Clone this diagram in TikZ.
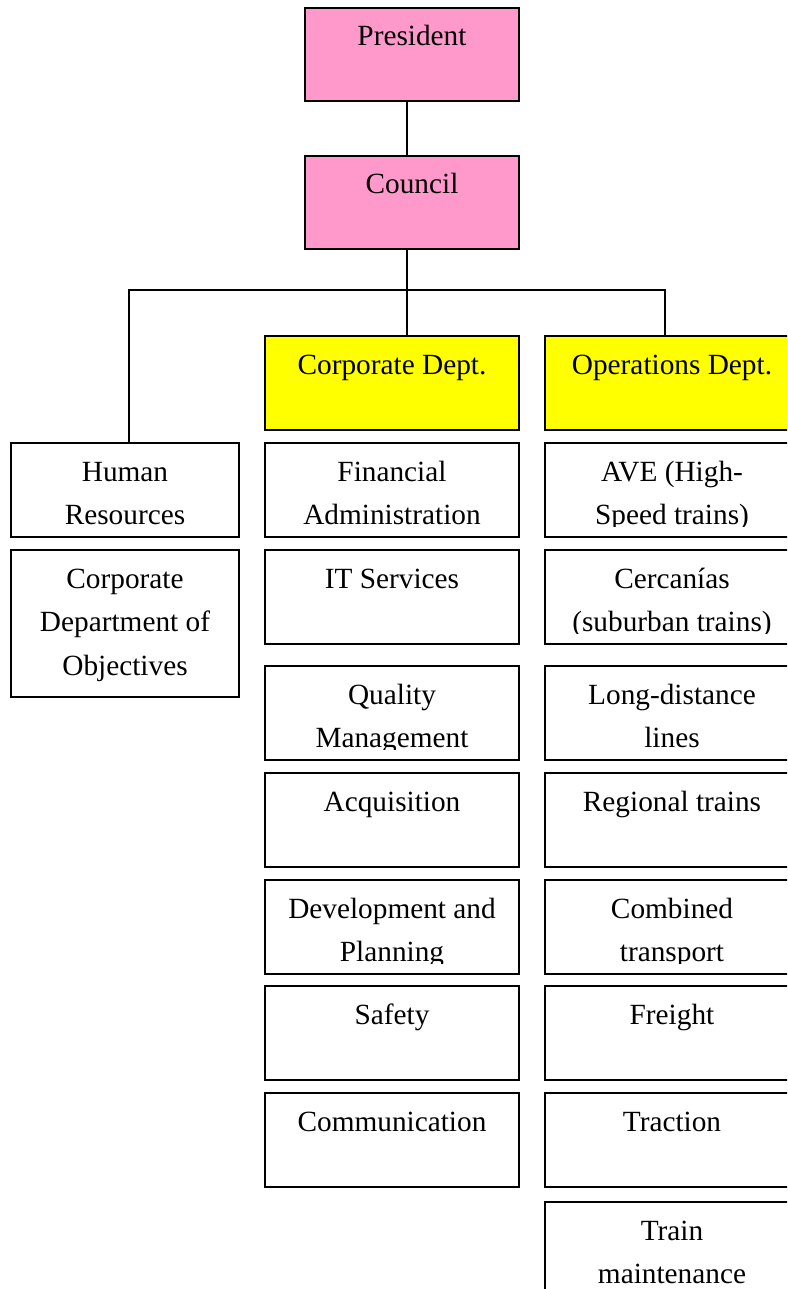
\documentclass[tikz,border=0pt]{standalone}
\usepackage{fontspec}
\setmainfont{Liberation Serif}
\definecolor{pinkbox}{HTML}{FF99CC}
\definecolor{yellowbox}{HTML}{FFFF00}
\begin{document}
\begin{tikzpicture}[x=1pt,y=-1pt,
  box/.style={draw, line width=1.8pt, outer sep=0pt, inner sep=0pt, anchor=north west,
    minimum width=254pt, minimum height=94pt,
    path picture={
      \clip ([yshift=11pt]path picture bounding box.south west) rectangle (path picture bounding box.north east);
      \node[anchor=base, inner sep=0pt, font=\fontsize{29.3}{43.5}\selectfont]
        at ([yshift=-38pt]path picture bounding box.north)
        {\begin{tabular}[t]{@{}c@{}}#1\end{tabular}};}},
  conn/.style={draw, line width=1.8pt}]
\useasboundingbox (0,0) rectangle (787,1289);
\clip (0,0) rectangle (787,1289);
% top
\node[box={President}, fill=pinkbox, minimum width=214pt, minimum height=93pt] (pres) at (305,8) {};
\node[box={Council}, fill=pinkbox, minimum width=214pt, minimum height=93pt] (coun) at (305,156) {};
% departments
\node[box={Corporate Dept.}, fill=yellowbox] (corp) at (265,336) {};
\node[box={Operations Dept.}, fill=yellowbox] (ops) at (545,336) {};
% left column
\node[box={Human\\Resources}, minimum width=228pt] (hr) at (11,443) {};
\node[box={Corporate\\Department of\\Objectives}, minimum width=228pt, minimum height=147pt] (cdo) at (11,550) {};
% middle column
\node[box={Financial\\Administration}] (fin) at (265,443) {};
\node[box={IT Services}] (its) at (265,550) {};
\node[box={Quality\\Management}] (qm) at (265,666) {};
\node[box={Acquisition}] (acq) at (265,773) {};
\node[box={Development and\\Planning}] (dev) at (265,880) {};
\node[box={Safety}] (saf) at (265,986) {};
\node[box={Communication}] (com) at (265,1093) {};
% right column
\node[box={AVE (High-\\Speed trains)}] (ave) at (545,443) {};
\node[box={Cercanías\\(suburban trains)}] (cer) at (545,550) {};
\node[box={Long-distance\\lines}] (ld) at (545,666) {};
\node[box={Regional trains}] (reg) at (545,773) {};
\node[box={Combined\\transport}] (cmb) at (545,880) {};
\node[box={Freight}] (fr) at (545,986) {};
\node[box={Traction}] (tr) at (545,1093) {};
\node[box={Train\\maintenance}] (tm) at (545,1202) {};
% connectors
\coordinate (jL) at (129,290);
\coordinate (jC) at (407,290);
\coordinate (jR) at (665,290);
\draw[conn] (pres.south -| jC) -- (coun.north -| jC);
\draw[conn] (coun.south -| jC) -- (jC);
\draw[conn] (jL |- hr.north) -- (jL) -- (jR) -- (jR |- ops.north);
\draw[conn] (jC) -- (jC |- corp.north);
\end{tikzpicture}
\end{document}
